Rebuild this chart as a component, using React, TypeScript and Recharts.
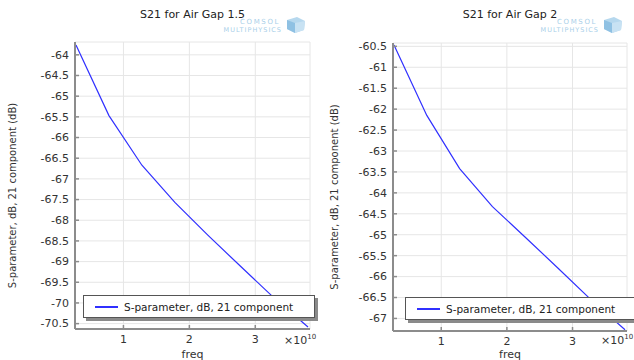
import React from "react";
import { LineChart, Line, XAxis, YAxis, CartesianGrid, Legend } from "recharts";

// frequency sweep, in units of 1e10 Hz
const freq = [0.28, 0.78, 1.28, 1.78, 2.28, 2.78, 3.28, 3.8];
// S21 in dB for each air gap
const s21Gap15 = [-63.76, -65.47, -66.67, -67.57, -68.36, -69.12, -69.87, -70.58];
const s21Gap2 = [-60.47, -62.15, -63.42, -64.33, -65.06, -65.8, -66.55, -67.27];

const freqTicks = [1, 2, 3];
const ticksGap15 = [-70.5, -70, -69.5, -69, -68.5, -68, -67.5, -67, -66.5, -66, -65.5, -65, -64.5, -64];
const ticksGap2 = [-67, -66.5, -66, -65.5, -65, -64.5, -64, -63.5, -63, -62.5, -62, -61.5, -61, -60.5];

const FONT = '"DejaVu Sans", sans-serif';
const AXIS = "#8c8c8c";
const GRID = "#e6e6e6";
const LINE = "#3030ff";
const TEXT = "#333";
const LOGO = "#a9cfe9";

const LeftTick = ({ x, y, payload }: any) => (
  <g>
    <line x1={x + 6} y1={y} x2={x + 10} y2={y} stroke={AXIS} strokeWidth={1.5} />
    <text x={x} y={y} dy="0.35em" textAnchor="end" fontSize={11} fontFamily={FONT} fill={TEXT}>
      {payload.value}
    </text>
  </g>
);

const BottomTick = ({ x, y, payload }: any) => (
  <g>
    <line x1={x} y1={y - 6} x2={x} y2={y - 10} stroke={AXIS} strokeWidth={1.5} />
    <text x={x} y={y} dy="0.71em" textAnchor="middle" fontSize={11} fontFamily={FONT} fill={TEXT}>
      {payload.value}
    </text>
  </g>
);

// top / right frame axes: tick marks only
const NoLabel = () => <g />;

function Logo({ right }: { right: number }) {
  return (
    <div style={{ position: "absolute", top: 16, left: right - 106, width: 106, height: 18 }}>
      <svg width={106} height={18}>
        <text x={80} y={8} textAnchor="end" fontSize={7} letterSpacing={1.6} fontFamily={FONT} fill={LOGO}>
          COMSOL
        </text>
        <text x={82} y={15.5} textAnchor="end" fontSize={6.5} letterSpacing={1} fontFamily={FONT} fill={LOGO}>
          MULTIPHYSICS
        </text>
        <polygon points="87,4 97,1 105,5 104,14 95,17 87,13" fill="#b6d8ee" />
        <polygon points="87,4 95,7 95,17 87,13" fill="#8fc1e3" />
        <polygon points="95,7 105,5 104,14 95,17" fill="#c8e2f3" />
      </svg>
    </div>
  );
}

interface PlotProps {
  title: string;
  values: number[];
  yTicks: number[];
  yDomain: [number, number];
  left: number;
  top: number;
  xAxisHeight: number;
  yAxisWidth: number;
  labelX: number;
  legendLeft: number;
  legendTop: number;
}

function S21Plot(p: PlotProps) {
  const data = freq.map((f, i) => ({ freq: f, s21: p.values[i] }));
  const W = 317;
  const plotRight = W - 7;
  return (
    <div style={{ position: "absolute", left: p.left, top: 0, width: W, height: 360 }}>
      <div
        style={{
          position: "absolute",
          top: 8,
          left: p.yAxisWidth,
          width: plotRight - p.yAxisWidth,
          textAlign: "center",
          fontSize: 11,
          fontFamily: FONT,
          color: "#222",
        }}
      >
        {p.title}
      </div>
      <Logo right={plotRight - 4} />
      <LineChart width={W} height={360} data={data} margin={{ top: p.top, right: 7, bottom: 0, left: 0 }}>
        <CartesianGrid stroke={GRID} />
        <XAxis
          dataKey="freq"
          type="number"
          domain={[0.265, 3.83]}
          allowDataOverflow
          ticks={freqTicks}
          interval={0}
          height={p.xAxisHeight}
          tickSize={0}
          tickMargin={6}
          tick={<BottomTick />}
          axisLine={{ stroke: AXIS, strokeWidth: 2 }}
          label={{ value: "freq", position: "insideBottom", offset: 2, fontSize: 11, fontFamily: FONT, fill: TEXT }}
        />
        <XAxis
          xAxisId="top"
          orientation="top"
          dataKey="freq"
          type="number"
          domain={[0.265, 3.83]}
          allowDataOverflow
          ticks={freqTicks}
          interval={0}
          height={0}
          mirror
          tickSize={4}
          tick={<NoLabel />}
          tickLine={{ stroke: AXIS, strokeWidth: 1.5 }}
          axisLine={{ stroke: AXIS, strokeWidth: 2 }}
        />
        <YAxis
          type="number"
          domain={p.yDomain}
          allowDataOverflow
          ticks={p.yTicks}
          interval={0}
          width={p.yAxisWidth}
          tickSize={0}
          tickMargin={6}
          tick={<LeftTick />}
          axisLine={{ stroke: AXIS, strokeWidth: 2 }}
          label={{
            content: ({ viewBox }: any) => (
              <text
                transform={`translate(${viewBox.x + p.labelX},${viewBox.y + viewBox.height / 2 + 10}) rotate(-90)`}
                textAnchor="middle"
                dominantBaseline="central"
                fontSize={10}
                fontFamily={FONT}
                fill={TEXT}
              >
                S-parameter, dB, 21 component (dB)
              </text>
            ),
          }}
        />
        <YAxis
          yAxisId="right"
          orientation="right"
          type="number"
          domain={p.yDomain}
          allowDataOverflow
          ticks={p.yTicks}
          interval={0}
          width={0}
          mirror
          tickSize={4}
          tick={<NoLabel />}
          tickLine={{ stroke: AXIS, strokeWidth: 1.5 }}
          axisLine={{ stroke: AXIS, strokeWidth: 2 }}
        />
        <Line
          type="linear"
          dataKey="s21"
          name="S-parameter, dB, 21 component"
          stroke={LINE}
          strokeWidth={1.2}
          dot={false}
          isAnimationActive={false}
        />
        <Legend
          layout="vertical"
          align="center"
          verticalAlign="middle"
          wrapperStyle={{ position: "absolute", left: p.legendLeft, top: p.legendTop, width: "auto", height: "auto" }}
          content={(lp: any) => (
            <div
              style={{
                width: 232,
                height: 23,
                boxSizing: "border-box",
                border: "1px solid #555",
                background: "#fff",
                boxShadow: "3px 3px 0 #8a8a8a",
                display: "flex",
                alignItems: "center",
                fontSize: 10.5,
                fontFamily: FONT,
                color: "#222",
                whiteSpace: "nowrap",
              }}
            >
              <svg width={40} height={10} style={{ flex: "none" }}>
                <line x1={11} x2={34} y1={5} y2={5} stroke={LINE} strokeWidth={2} />
              </svg>
              <span>{lp.payload?.[0]?.value}</span>
            </div>
          )}
        />
      </LineChart>
      <div
        style={{
          position: "absolute",
          left: plotRight - 26,
          top: 333,
          fontSize: 11,
          fontFamily: FONT,
          color: TEXT,
        }}
      >
        ×10<sup style={{ fontSize: 7 }}>10</sup>
      </div>
    </div>
  );
}

export default function App() {
  return (
    <div style={{ position: "absolute", left: 0, top: 0, width: 634, height: 360, overflow: "hidden", background: "#fff" }}>
      <S21Plot
        title="S21 for Air Gap 1.5"
        values={s21Gap15}
        yTicks={ticksGap15}
        yDomain={[-70.63, -63.69]}
        left={0}
        top={42}
        xAxisHeight={31}
        yAxisWidth={75}
        labelX={12}
        legendLeft={83}
        legendTop={295}
      />
      <S21Plot
        title="S21 for Air Gap 2"
        values={s21Gap2}
        yTicks={ticksGap2}
        yDomain={[-67.3, -60.42]}
        left={317}
        top={43}
        xAxisHeight={29}
        yAxisWidth={76}
        labelX={17}
        legendLeft={88}
        legendTop={297}
      />
    </div>
  );
}
